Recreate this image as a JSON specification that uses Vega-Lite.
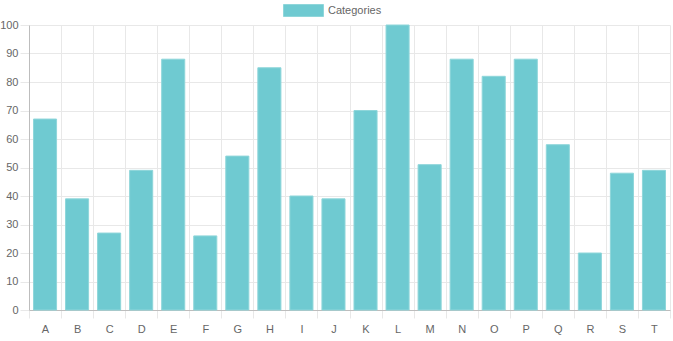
{
  "$schema": "https://vega.github.io/schema/vega-lite/v6.json",
  "width": 641,
  "height": 285,
  "autosize": {"type": "none"},
  "padding": {"left": 29, "top": 25, "right": 3, "bottom": 31},
  "background": "white",
  "config": {
    "view": {"stroke": null},
    "font": "Liberation Sans"
  },
  "data": {
    "values": [
      {"label": "A", "value": 67, "series": "Categories"},
      {"label": "B", "value": 39, "series": "Categories"},
      {"label": "C", "value": 27, "series": "Categories"},
      {"label": "D", "value": 49, "series": "Categories"},
      {"label": "E", "value": 88, "series": "Categories"},
      {"label": "F", "value": 26, "series": "Categories"},
      {"label": "G", "value": 54, "series": "Categories"},
      {"label": "H", "value": 85, "series": "Categories"},
      {"label": "I", "value": 40, "series": "Categories"},
      {"label": "J", "value": 39, "series": "Categories"},
      {"label": "K", "value": 70, "series": "Categories"},
      {"label": "L", "value": 100, "series": "Categories"},
      {"label": "M", "value": 51, "series": "Categories"},
      {"label": "N", "value": 88, "series": "Categories"},
      {"label": "O", "value": 82, "series": "Categories"},
      {"label": "P", "value": 88, "series": "Categories"},
      {"label": "Q", "value": 58, "series": "Categories"},
      {"label": "R", "value": 20, "series": "Categories"},
      {"label": "S", "value": 48, "series": "Categories"},
      {"label": "T", "value": 49, "series": "Categories"}
    ]
  },
  "mark": {"type": "bar", "width": {"band": 0.72}, "stroke": "#8fd6da", "strokeWidth": 1},
  "encoding": {
    "x": {
      "field": "label",
      "type": "nominal",
      "sort": null,
      "scale": {"paddingInner": 0, "paddingOuter": 0},
      "axis": {
        "title": null,
        "labelAngle": 0,
        "tickBand": "extent",
        "grid": true,
        "gridColor": "#e8e8e8",
        "tickColor": "#e8e8e8",
        "tickSize": 8,
        "labelPadding": 5,
        "labelColor": "#666666",
        "labelFontSize": 11,
        "labelFont": "Liberation Sans",
        "domainColor": "#bdbdbd",
        "domainWidth": 1
      }
    },
    "y": {
      "field": "value",
      "type": "quantitative",
      "scale": {"domain": [0, 100], "nice": false},
      "axis": {
        "title": null,
        "values": [0, 10, 20, 30, 40, 50, 60, 70, 80, 90, 100],
        "grid": true,
        "gridColor": "#e8e8e8",
        "tickColor": "#e8e8e8",
        "tickSize": 9,
        "labelPadding": 2,
        "labelColor": "#666666",
        "labelFontSize": 11,
        "labelFont": "Liberation Sans",
        "domainColor": "#bdbdbd"
      }
    },
    "color": {
      "field": "series",
      "type": "nominal",
      "scale": {"range": ["#6fcad1"]},
      "legend": {
        "title": null,
        "orient": "none",
        "legendX": 264,
        "legendY": -25,
        "symbolType": "M-2,-0.6H2V0.6H-2Z",
        "symbolSize": 400,
        "symbolStrokeColor": "#8fd6da",
        "symbolStrokeWidth": 1,
        "symbolOffset": 0,
        "labelOffset": 14,
        "labelColor": "#666666",
        "labelFontSize": 11,
        "labelFont": "Liberation Sans"
      }
    }
  }
}
